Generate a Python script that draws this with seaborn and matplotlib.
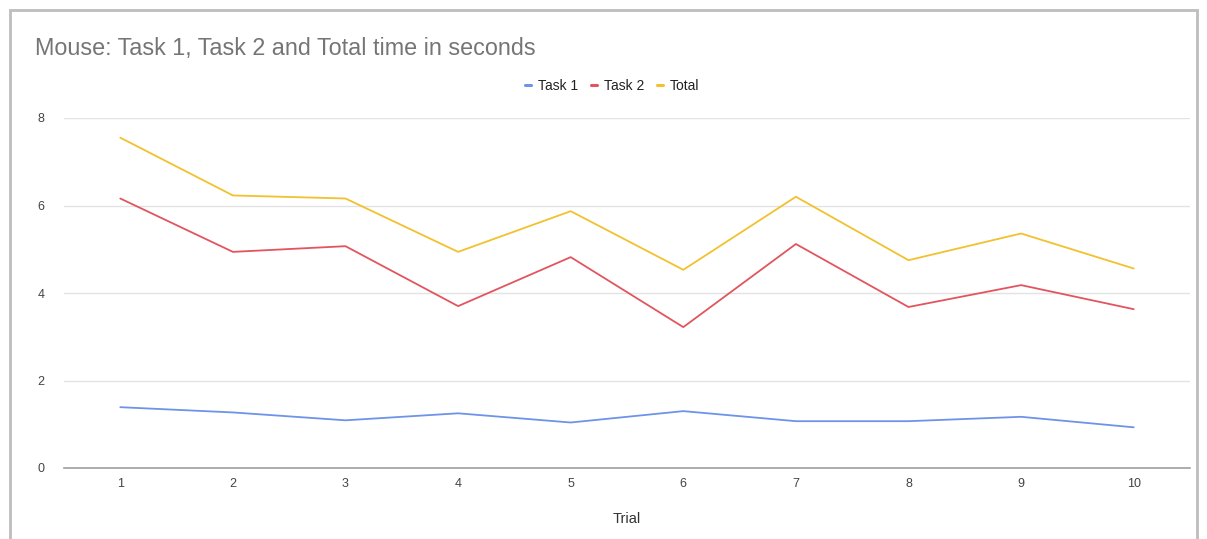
import matplotlib
matplotlib.use("Agg")
import matplotlib.pyplot as plt
from matplotlib.patches import Rectangle
from matplotlib.lines import Line2D
import seaborn as sns
import pandas as pd

trials = [1, 2, 3, 4, 5, 6, 7, 8, 9, 10]
task1 = [1.39, 1.27, 1.09, 1.25, 1.04, 1.30, 1.07, 1.07, 1.17, 0.93]
task2 = [6.16, 4.94, 5.07, 3.70, 4.82, 3.22, 5.12, 3.68, 4.18, 3.63]
total = [7.55, 6.23, 6.16, 4.94, 5.87, 4.53, 6.20, 4.75, 5.36, 4.56]
series_names = ["Task 1", "Task 2", "Total"]
colors = ["#6f93e8", "#e2555f", "#f2c12e"]
y_ticks = [0, 2, 4, 6, 8]

df = pd.DataFrame({
    "Trial": trials * 3,
    "Time": task1 + task2 + total,
    "Series": [series_names[0]] * 10 + [series_names[1]] * 10 + [series_names[2]] * 10,
})

sns.set_theme(style="white")
plt.rcParams["font.family"] = ["Liberation Sans", "DejaVu Sans"]

W, H = 1207, 539
fig = plt.figure(figsize=(W / 100, H / 100), dpi=100)
ax = fig.add_axes([64 / W, 1 - 468 / H, (1190 - 64) / W, (468 - 118) / H])

sns.lineplot(data=df, x="Trial", y="Time", hue="Series", palette=colors,
             linewidth=1.3, ax=ax, legend=False)

ax.set_xlim(0.5, 10.5)
ax.set_ylim(0, 8)
ax.set_xticks(trials)
ax.set_yticks(y_ticks)
ax.tick_params(axis="both", length=0, labelsize=9, labelcolor="#444444")
ax.tick_params(axis="y", pad=14)
ax.tick_params(axis="x", pad=7)
ax.yaxis.grid(True, color="#e3e3e3", linewidth=1)
ax.set_axisbelow(True)
for s in ["top", "right", "left"]:
    ax.spines[s].set_visible(False)
ax.spines["bottom"].set_color("#9e9e9e")
ax.spines["bottom"].set_linewidth(1.2)
ax.set_ylabel("")
ax.set_xlabel("Trial", fontsize=10.5, color="#333333", labelpad=16)

handles = [Line2D([0], [0], color=c, lw=2.2) for c in colors]
fig.legend(handles, series_names, loc="center", bbox_to_anchor=(612 / W, 1 - 86 / H),
           ncol=3, frameon=False, fontsize=10, handlelength=0.45, handletextpad=0.5,
           columnspacing=0.9, labelcolor="#222222")

fig.text(35 / W, 1 - 48 / H, "Mouse: Task 1, Task 2 and Total time in seconds",
         fontsize=16.8, color="#757575", ha="left", va="center")

fig.patches.append(Rectangle((10 / W, -0.05), (1197 - 10) / W, 1 - 10 / H + 0.05,
                             transform=fig.transFigure, fill=False,
                             edgecolor="#bdbdbd", linewidth=2, zorder=10))

fig.savefig("out.png", dpi=100)
